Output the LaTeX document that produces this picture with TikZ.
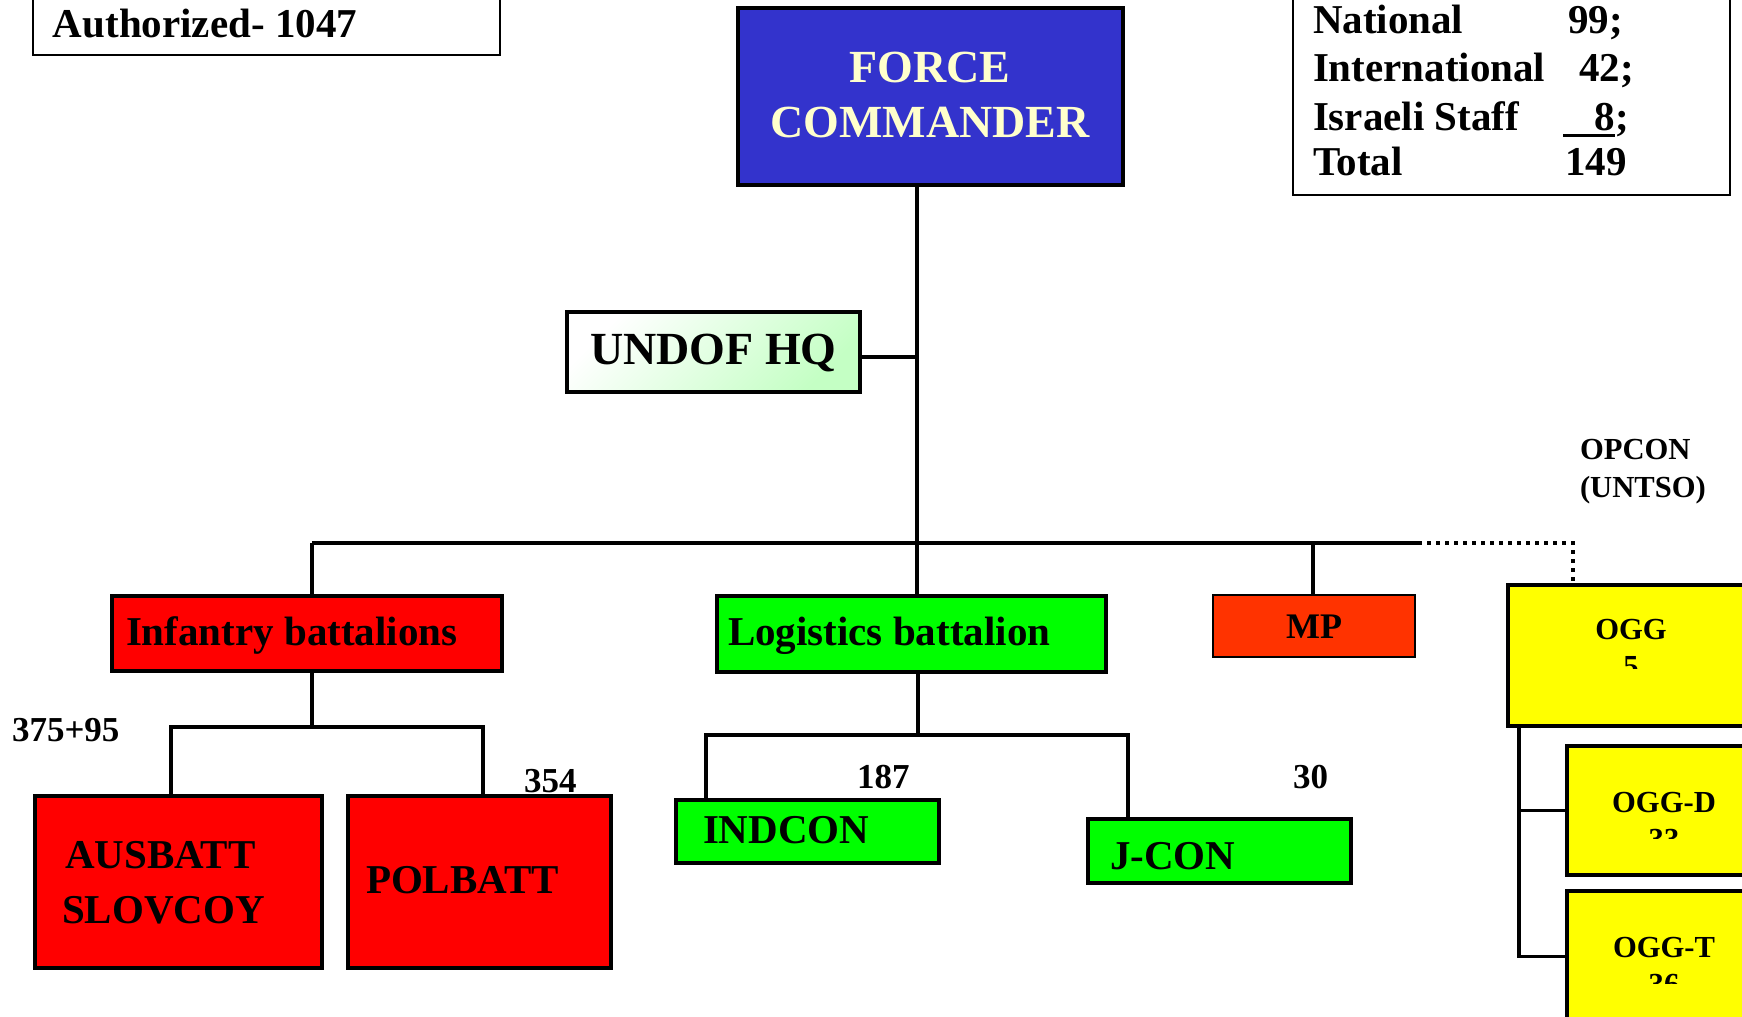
\documentclass[tikz,border=0pt]{standalone}
\usepackage{fontspec}
\setmainfont{Liberation Serif}
\usetikzlibrary{fit}
\definecolor{fcblue}{HTML}{3333CC}
\definecolor{fctext}{HTML}{FFFFCC}
\definecolor{ured}{HTML}{FF0000}
\definecolor{ugreen}{HTML}{00FF00}
\definecolor{mpred}{HTML}{FF3300}
\definecolor{uyellow}{HTML}{FFFF00}
\definecolor{hqgreen}{HTML}{C4FFC4}
\begin{document}
\begin{tikzpicture}[x=0.5pt,y=-0.5pt,
  orgbox/.style={draw=black, line width=1.7pt, inner sep=0pt, outer sep=0pt},
  thinbox/.style={draw=black, line width=1.1pt, inner sep=0pt, outer sep=0pt},
  lbl/.style={inner sep=0pt, outer sep=0pt, anchor=base west, font=\bfseries\fontsize{20.5}{24}\selectfont},
  bigc/.style={inner sep=0pt, outer sep=0pt, anchor=base, text=fctext, font=\bfseries\fontsize{23}{27}\selectfont},
  num/.style={inner sep=0pt, outer sep=0pt, anchor=base west, font=\bfseries\fontsize{17.5}{21}\selectfont},
  small/.style={inner sep=0pt, outer sep=0pt, anchor=base west, font=\bfseries\fontsize{15.3}{18}\selectfont},
  smallc/.style={inner sep=0pt, outer sep=0pt, anchor=base, font=\bfseries\fontsize{15.3}{18}\selectfont},
  link/.style={line width=1.6pt},
  dotlink/.style={line width=1.7pt, dash pattern=on 2pt off 2.5pt}]
\useasboundingbox (0,0) rectangle (1742,1017);
\fill[white] (0,0) rectangle (1742,1017);
\clip (0,0) rectangle (1742,1017);

% top boxes
\node[thinbox, fit={(33,-10) (500,55)}] (auth) {};
\node[lbl] (t-auth) at (53,37) {Authorized- 1047};

\node[thinbox, fit={(1293,-10) (1730,195)}] (staff) {};
\node[lbl] (t-nat) at (1313,33) {National};
\node[lbl] (n-nat) at (1568,33) {99;};
\node[lbl] (t-int) at (1313,82) {International};
\node[lbl] (n-int) at (1579,82) {42;};
\node[lbl] (t-isr) at (1313,130) {Israeli Staff};
\node[lbl] (n-isr) at (1563,130) {\rlap{\rule[-3.25pt]{26pt}{1.5pt}}\hspace{15.75pt}8;};
\node[lbl] (t-tot) at (1313,175) {Total};
\node[lbl] (n-tot) at (1565,175) {149};

% force commander
\node[orgbox, fill=fcblue, fit={(738,8) (1123,185)}] (fc) {};
\node[bigc] (t-fc1) at (930,83) {FORCE};
\node[bigc] (t-fc2) at (930,137) {COMMANDER};

% UNDOF HQ
\node[orgbox, top color=white, bottom color=hqgreen, shading angle=45, fit={(567,312) (860,392)}] (hq) {};
\node[lbl, font=\bfseries\fontsize{23}{27}\selectfont] (t-hq) at (590,364) {UNDOF HQ};

% second row
\node[orgbox, fill=ured, fit={(112,596) (502,671)}] (inf) {};
\node[lbl] (t-inf) at (126,645) {Infantry battalions};
\node[orgbox, fill=ugreen, fit={(717,596) (1106,672)}] (log) {};
\node[lbl] (t-log) at (728,645) {Logistics battalion};
\node[thinbox, fill=mpred, fit={(1213,595) (1415,657)}] (mp) {};
\node[inner sep=0pt, anchor=base, font=\bfseries\fontsize{18}{21}\selectfont] (t-mp) at (1314,638) {MP};
\node[orgbox, fill=uyellow, fit={(1508,585) (1760,726)}] (ogg) {};
\node[smallc] (t-ogg) at (1631,639) {OGG};
\begin{scope}
\clip (1510,600) rectangle (1740,668);
\node[smallc] (t-ogg5) at (1631,676) {5};
\end{scope}

\node[small] (t-opcon1) at (1580,459) {OPCON};
\node[small] (t-opcon2) at (1580,497) {(UNTSO)};

% third row
\node[orgbox, fill=ured, fit={(35,796) (322,968)}] (aus) {};
\node[lbl] (t-aus1) at (65,868) {AUSBATT};
\node[lbl] (t-aus2) at (62,923) {SLOVCOY};
\node[orgbox, fill=ured, fit={(348,796) (611,968)}] (pol) {};
\node[lbl] (t-pol) at (366,893) {POLBATT};
\node[orgbox, fill=ugreen, fit={(676,800) (939,863)}] (ind) {};
\node[lbl] (t-ind) at (703,843) {INDCON};
\node[orgbox, fill=ugreen, fit={(1088,819) (1351,883)}] (jcon) {};
\node[lbl] (t-jcon) at (1110,869) {J-CON};

\node[num] (n-aus) at (12,741) {375+95};
\node[num] (n-pol) at (524,792) {354};
\node[num] (n-ind) at (857,788) {187};
\node[num] (n-jcon) at (1293,788) {30};

\node[orgbox, fill=uyellow, fit={(1567,746) (1760,875)}] (oggd) {};
\node[smallc] (t-oggd) at (1664,812) {OGG-D};
\begin{scope}
\clip (1570,760) rectangle (1740,838);
\node[smallc] (t-oggd2) at (1664,849) {33};
\end{scope}
\node[orgbox, fill=uyellow, fit={(1567,891) (1760,1022)}] (oggt) {};
\node[smallc] (t-oggt) at (1664,957) {OGG-T};
\begin{scope}
\clip (1570,900) rectangle (1740,983);
\node[smallc] (t-oggt2) at (1664,994) {36};
\end{scope}

% connectors
\coordinate (trunk) at (917,543);
\coordinate (busL) at (312,543);
\coordinate (busR) at (1418,543);
\coordinate (mpx) at (1313,543);
\coordinate (dotc) at (1573,543);
\coordinate (hqc) at ([yshift=-2.5pt]hq.east);
\draw[link] (fc.south -| trunk) -- (trunk);
\draw[link] (hqc) -- (hqc -| trunk);
\draw[link] (busL) -- (busR);
\draw[link] (busL) -- (inf.north -| busL);
\draw[link] (trunk) -- (log.north -| trunk);
\draw[link] (mpx) -- (mp.north -| mpx);
\draw[dotlink] (busR) -- (dotc) -- (ogg.north -| dotc);

\coordinate (infj) at (312,727);
\coordinate (ausx) at (171,727);
\coordinate (polx) at (483,727);
\draw[link] (inf.south -| infj) -- (infj);
\draw[link] (aus.north -| ausx) -- (ausx) -- (polx) -- (pol.north -| polx);

\coordinate (logj) at (918,735);
\coordinate (indx) at (706,735);
\coordinate (jcx) at (1128,735);
\draw[link] (log.south -| logj) -- (logj);
\draw[link] (ind.north -| indx) -- (indx) -- (jcx) -- (jcon.north -| jcx);

\coordinate (oggx) at (1519,726);
\draw[link] (ogg.south -| oggx) -- (oggt.west -| oggx) -- (oggt.west);
\draw[link] (oggd.west -| oggx) -- (oggd.west);
\end{tikzpicture}
\end{document}
